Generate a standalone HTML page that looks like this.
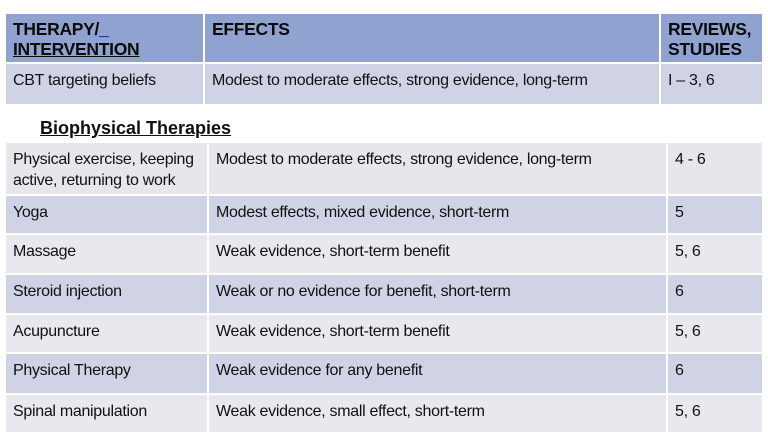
<!DOCTYPE html>
<html><head><meta charset="utf-8"><style>
body{margin:0;width:768px;height:444px;background:#fff;position:relative;overflow:hidden;font-family:"Liberation Sans",sans-serif;color:#111}
.c{position:absolute;box-sizing:border-box;padding:6px 0 0 7px;font-size:16px;line-height:21px;letter-spacing:-0.3px}
.h{background:#8fa2d0;font-weight:bold;font-size:17.5px;line-height:20px;padding-top:5px;color:#0b0b0b}
.d{background:#cfd3e5}
.l{background:#e8e8ee}
.g{background:#e7e6eb}
</style></head><body>
<div class="c h" style="left:6px;top:14px;width:197px;height:48px">THERAPY/<span style="text-decoration:underline;color:#1a3c9a">_</span><br><span style="text-decoration:underline">INTERVENTION</span></div>
<div class="c h" style="left:205px;top:14px;width:454px;height:48px">EFFECTS</div>
<div class="c h" style="left:661px;top:14px;width:101px;height:48px">REVIEWS,<br>STUDIES</div>
<div class="c d" style="left:6px;top:64px;width:197px;height:40px">CBT targeting beliefs</div>
<div class="c d" style="left:205px;top:64px;width:454px;height:40px">Modest to moderate effects, strong evidence, long-term</div>
<div class="c d" style="left:661px;top:64px;width:101px;height:40px">I – 3, 6</div>
<div style="position:absolute;left:40px;top:118px;font-size:18px;font-weight:bold;text-decoration:underline;color:#111">Biophysical Therapies</div>

<div class="c g" style="left:6px;top:143px;width:201px;height:51px">Physical exercise, keeping active, returning to work</div>
<div class="c g" style="left:209px;top:143px;width:457px;height:51px">Modest to moderate effects, strong evidence, long-term</div>
<div class="c g" style="left:668px;top:143px;width:94px;height:51px">4 - 6</div>

<div class="c d" style="left:6px;top:196px;width:201px;height:37px">Yoga</div>
<div class="c d" style="left:209px;top:196px;width:457px;height:37px">Modest effects, mixed evidence, short-term</div>
<div class="c d" style="left:668px;top:196px;width:94px;height:37px">5</div>

<div class="c l" style="left:6px;top:235px;width:201px;height:38px">Massage</div>
<div class="c l" style="left:209px;top:235px;width:457px;height:38px">Weak evidence, short-term benefit</div>
<div class="c l" style="left:668px;top:235px;width:94px;height:38px">5, 6</div>

<div class="c d" style="left:6px;top:275px;width:201px;height:38px">Steroid injection</div>
<div class="c d" style="left:209px;top:275px;width:457px;height:38px">Weak or no evidence for benefit, short-term</div>
<div class="c d" style="left:668px;top:275px;width:94px;height:38px">6</div>

<div class="c l" style="left:6px;top:315px;width:201px;height:37px">Acupuncture</div>
<div class="c l" style="left:209px;top:315px;width:457px;height:37px">Weak evidence, short-term benefit</div>
<div class="c l" style="left:668px;top:315px;width:94px;height:37px">5, 6</div>

<div class="c d" style="left:6px;top:354px;width:201px;height:39px">Physical Therapy</div>
<div class="c d" style="left:209px;top:354px;width:457px;height:39px">Weak evidence for any benefit</div>
<div class="c d" style="left:668px;top:354px;width:94px;height:39px">6</div>

<div class="c l" style="left:6px;top:395px;width:201px;height:37px">Spinal manipulation</div>
<div class="c l" style="left:209px;top:395px;width:457px;height:37px">Weak evidence, small effect, short-term</div>
<div class="c l" style="left:668px;top:395px;width:94px;height:37px">5, 6</div>
</body></html>
